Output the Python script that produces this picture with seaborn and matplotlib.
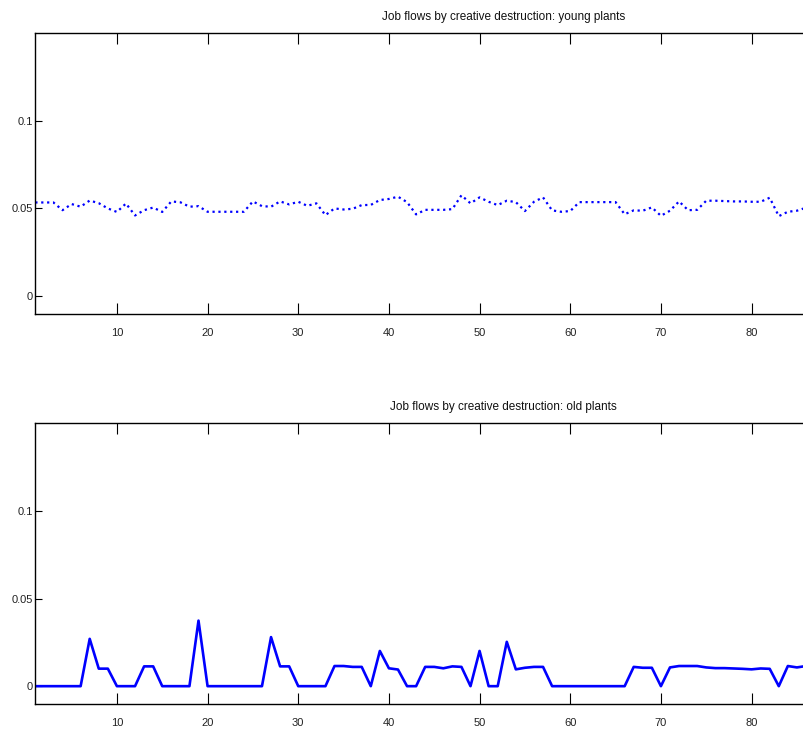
import matplotlib
matplotlib.use("Agg")
import matplotlib.pyplot as plt
import seaborn as sns
import pandas as pd

# ---- data -------------------------------------------------------------
periods = list(range(1, 88))

young_plants = [
    0.0534, 0.0534, 0.0534, 0.0490, 0.0525, 0.0510, 0.0545, 0.0530, 0.0500, 0.0480,
    0.0528, 0.0460, 0.0490, 0.0505, 0.0480, 0.0540, 0.0535, 0.0510, 0.0513, 0.0481,
    0.0481, 0.0481, 0.0481, 0.0481, 0.0540, 0.0513, 0.0510, 0.0540, 0.0523, 0.0538,
    0.0515, 0.0529, 0.0462, 0.0500, 0.0494, 0.0498, 0.0519, 0.0520, 0.0548, 0.0554,
    0.0567, 0.0536, 0.0466, 0.0492, 0.0492, 0.0492, 0.0496, 0.0575, 0.0529, 0.0563,
    0.0538, 0.0519, 0.0544, 0.0536, 0.0485, 0.0538, 0.0563, 0.0489, 0.0481, 0.0485,
    0.0536, 0.0536, 0.0536, 0.0536, 0.0536, 0.0467, 0.0489, 0.0487, 0.0506, 0.0458,
    0.0487, 0.0540, 0.0490, 0.0492, 0.0544, 0.0544, 0.0542, 0.0540, 0.0540, 0.0538,
    0.0538, 0.0561, 0.0456, 0.0481, 0.0487, 0.0504, 0.0510,
]

old_plants = [
    0.0, 0.0, 0.0, 0.0, 0.0, 0.0, 0.0270, 0.0100, 0.0100, 0.0,
    0.0, 0.0, 0.0113, 0.0113, 0.0, 0.0, 0.0, 0.0, 0.0374, 0.0,
    0.0, 0.0, 0.0, 0.0, 0.0, 0.0, 0.0280, 0.0113, 0.0113, 0.0,
    0.0, 0.0, 0.0, 0.0115, 0.0115, 0.0110, 0.0110, 0.0, 0.0201, 0.0102,
    0.0095, 0.0, 0.0, 0.0110, 0.0110, 0.0102, 0.0113, 0.0110, 0.0, 0.0201,
    0.0, 0.0, 0.0253, 0.0096, 0.0105, 0.0110, 0.0110, 0.0, 0.0, 0.0,
    0.0, 0.0, 0.0, 0.0, 0.0, 0.0, 0.0110, 0.0105, 0.0105, 0.0,
    0.0107, 0.0115, 0.0115, 0.0115, 0.0107, 0.0103, 0.0103, 0.0101, 0.0099, 0.0096,
    0.0101, 0.0099, 0.0, 0.0115, 0.0107, 0.0115, 0.0,
]

titles = [
    "Job flows by creative destruction: young plants",
    "Job flows by creative destruction: old plants",
]
x_ticks = [10, 20, 30, 40, 50, 60, 70, 80]
y_ticks = [0, 0.05, 0.1]
y_tick_labels = ["0", "0.05", "0.1"]

df = pd.DataFrame({"t": periods, "young": young_plants, "old": old_plants})

# ---- style ------------------------------------------------------------
sns.set_theme(style="white")
plt.rcParams["font.family"] = ["Liberation Sans", "DejaVu Sans"]

W, H = 804, 730
fig = plt.figure(figsize=(W / 100, H / 100), dpi=100)

left = 35.3 / W
width = (971 - 35.3) / W
ax_top = fig.add_axes([left, 1 - 313.7 / H, width, 280.7 / H])
ax_bot = fig.add_axes([left, 1 - 703.7 / H, width, 280.4 / H])

sns.lineplot(data=df, x="t", y="young", ax=ax_top, color="#0000ff",
             linestyle=":", linewidth=1.6)
sns.lineplot(data=df, x="t", y="old", ax=ax_bot, color="#0000ff",
             linestyle="-", linewidth=1.9)

for ax, title in zip([ax_top, ax_bot], titles):
    ax.set_xlim(1, 104.2)
    ax.set_ylim(-0.01, 0.15)
    ax.set_xticks(x_ticks)
    ax.set_xticklabels([str(v) for v in x_ticks])
    ax.set_yticks(y_ticks)
    ax.set_yticklabels(y_tick_labels)
    ax.set_xlabel("")
    ax.set_ylabel("")
    for s in ax.spines.values():
        s.set_color("black")
        s.set_linewidth(1.0)
        s.set_visible(True)
    ax.tick_params(axis="x", which="both", direction="in", length=8, width=0.8,
                   top=True, bottom=True, pad=10, labelsize=8,
                   colors="black", labelcolor="#222222")
    ax.tick_params(axis="y", which="both", direction="in", length=5, width=0.8,
                   left=True, right=False, pad=1.5, labelsize=8,
                   colors="black", labelcolor="#222222")
    ax.set_title(title, fontsize=8.5, pad=9.5, color="#111111")
    ax.grid(False)

fig.savefig("out.png", dpi=100)
